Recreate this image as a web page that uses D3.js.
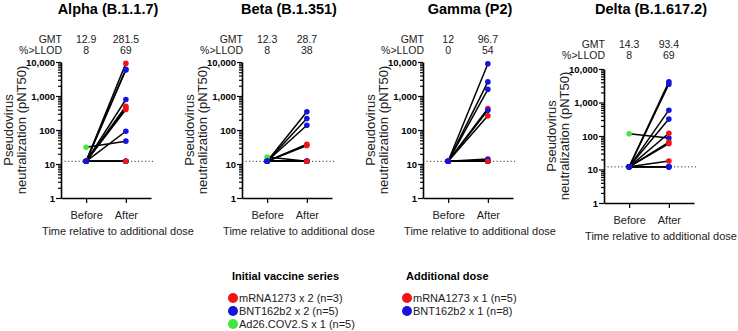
<!DOCTYPE html>
<html>
<head>
<meta charset="utf-8">
<script src="https://cdn.jsdelivr.net/npm/d3@7"></script>
<style>
  body { margin: 0; background: #fff; }
  svg { display: block; font-family: "Liberation Sans", Arial, sans-serif; }
</style>
</head>
<body>
<svg id="chart" width="738" height="331"></svg>
<script>
// DATA
const variants = ["Alpha (B.1.1.7)", "Beta (B.1.351)", "Gamma (P2)", "Delta (B.1.617.2)"]
const timepoints = ["Before", "After"]
const gmtBefore = ["12.9", "12.3", "12", "14.3"]
const gmtAfter = ["281.5", "28.7", "96.7", "93.4"]
const llodBefore = ["8", "8", "0", "8"]
const llodAfter = ["69", "38", "54", "69"]
const llodValue = 12
const yTickValues = [1, 10, 100, 1000, 10000]

// one entry per participant, same order in every panel
const initialSeries = ["Ad26", "Ad26", "Ad26", "Ad26", "Ad26", "mRNA", "mRNA", "mRNA", "BNT", "BNT", "BNT", "BNT", "BNT"]
const additionalDose = ["BNT", "BNT", "BNT", "mRNA", "mRNA", "BNT", "mRNA", "mRNA", "BNT", "BNT", "BNT", "BNT", "mRNA"]

const alphaBefore = [31, 12, 12, 12, 12, 12, 12, 12, 12, 12, 12, 12, 12]
const alphaAfter = [47, 6050, 5800, 9100, 500, 790, 450, 400, 92, 12, 12, 12, 12]
const betaBefore = [16, 12, 12, 12, 12, 12, 12, 12, 12, 12, 12, 12, 12]
const betaAfter = [12, 343, 217, 38, 35, 138, 12, 12, 12, 12, 12, 12, 12]
const gammaBefore = [12, 12, 12, 12, 12, 12, 12, 12, 12, 12, 12, 12, 12]
const gammaAfter = [12, 8900, 2600, 427, 261, 1570, 12, 12, 382, 14, 12, 12, 12]
const deltaBefore = [117, 12, 12, 12, 12, 12, 12, 12, 12, 12, 12, 12, 12]
const deltaAfter = [87, 4150, 3520, 121, 66, 590, 59, 12, 320, 12, 12, 12, 18]

const beforeValues = [alphaBefore, betaBefore, gammaBefore, deltaBefore]
const afterValues = [alphaAfter, betaAfter, gammaAfter, deltaAfter]

const legendInitial = ["mRNA1273 x 2 (n=3)", "BNT162b2 x 2 (n=5)", "Ad26.COV2.S x 1 (n=5)"]
const legendInitialKeys = ["mRNA", "BNT", "Ad26"]
const legendAdditional = ["mRNA1273 x 1 (n=5)", "BNT162b2 x 1 (n=8)"]
const legendAdditionalKeys = ["mRNA", "BNT"]

const colors = {mRNA: "#f21414", BNT: "#1414dc", Ad26: "#3ee83e"}

let svg = d3.select("#chart")

function draw_panel(i){

    let axisX = 61 + i * 181
    let top = i == 3 ? 69 : 62
    let bottom = i == 3 ? 203 : 198
    let width = 90

    let y = d3.scaleLog().domain([1, 10000]).range([bottom, top])
    let x = d3.scalePoint().domain(timepoints).range([0, width]).padding(0.633)

    let panel = svg.append('g').attr('transform', `translate(${axisX},0)`)

    // TITLE
    panel.append('text')
        .attr('x', 47)
        .attr('y', 14)
        .attr('text-anchor', 'middle')
        .attr('font-size', 14.5)
        .attr('font-weight', 'bold')
        .text(variants[i])

    // GMT / LLOD ROWS
    let rowY = i == 3 ? 48 : 43
    let rows = [["GMT", gmtBefore[i], gmtAfter[i]], ["%>LLOD", llodBefore[i], llodAfter[i]]]
    rows.forEach((r, k) => {
        panel.append('text')
            .attr('x', 1)
            .attr('y', rowY + k * 11)
            .attr('text-anchor', 'end')
            .attr('font-size', 10.5)
            .attr('fill', '#222')
            .text(r[0])
        timepoints.forEach((t, j) => {
            panel.append('text')
                .attr('x', x(t))
                .attr('y', rowY + k * 11)
                .attr('text-anchor', 'middle')
                .attr('font-size', 10.5)
                .attr('fill', '#222')
                .text(r[j + 1])
        })
    })

    // Y AXIS
    let allTicks = []
    for (let d = 1; d < 10000; d *= 10) {
        for (let m = 1; m < 10; m++) allTicks.push(d * m)
    }
    allTicks.push(10000)

    let yAxis = panel.append('g')
        .call(d3.axisLeft(y).tickValues(allTicks).tickSizeOuter(0)
            .tickFormat(v => yTickValues.includes(v) ? d3.format(",")(v) : ""))
    yAxis.select('.domain').attr('stroke-width', 1.6)
    yAxis.selectAll('.tick line')
        .attr('x2', v => yTickValues.includes(v) ? -5 : -3)
        .attr('stroke-width', 1.2)
    yAxis.selectAll('.tick text')
        .attr('x', -6)
        .attr('font-size', 9.5)
        .attr('font-weight', 'bold')
        .attr('font-family', '"Liberation Sans", Arial, sans-serif')
        .attr('fill', '#000')

    // Y AXIS LABEL
    let midY = (top + bottom) / 2
    panel.append('text')
        .attr('transform', `translate(-48,${midY}) rotate(-90)`)
        .attr('text-anchor', 'middle')
        .attr('font-size', 13)
        .attr('fill', '#222')
        .text("Pseudovirus")
    panel.append('text')
        .attr('transform', `translate(-35,${midY}) rotate(-90)`)
        .attr('text-anchor', 'middle')
        .attr('font-size', 13)
        .attr('fill', '#222')
        .text("neutralization (pNT50)")

    // X AXIS
    let xAxis = panel.append('g')
        .attr('transform', `translate(0,${bottom})`)
        .call(d3.axisBottom(x).tickSize(5).tickSizeOuter(0))
    xAxis.select('.domain').attr('stroke-width', 1.6)
    xAxis.selectAll('.tick line').attr('stroke-width', 1.2)
    xAxis.selectAll('.tick text')
        .attr('y', 13)
        .attr('font-size', 11)
        .attr('font-family', '"Liberation Sans", Arial, sans-serif')
        .attr('fill', '#222')

    panel.append('text')
        .attr('x', 57)
        .attr('y', bottom + 37)
        .attr('text-anchor', 'middle')
        .attr('font-size', 11)
        .attr('fill', '#222')
        .text("Time relative to additional dose")

    // LLOD LINE
    panel.append('line')
        .attr('x1', 0)
        .attr('x2', width + 2)
        .attr('y1', y(llodValue))
        .attr('y2', y(llodValue))
        .attr('stroke', '#333')
        .attr('stroke-width', 1)
        .attr('stroke-dasharray', '1.2,2.3')

    let data = beforeValues[i].map((b, k) => ({
        before: b, after: afterValues[i][k],
        initial: initialSeries[k], boost: additionalDose[k]
    }))

    // LINES
    panel.selectAll('.pair')
        .data(data)
        .enter()
        .append('line')
            .attr('x1', x("Before"))
            .attr('x2', x("After"))
            .attr('y1', d => y(d.before))
            .attr('y2', d => y(d.after))
            .attr('stroke', '#000')
            .attr('stroke-width', 1.5)

    // BEFORE DOTS
    panel.selectAll('.dot-before')
        .data(data)
        .enter()
        .append('circle')
            .attr('cx', x("Before"))
            .attr('cy', d => y(d.before))
            .attr('r', 2.8)
            .attr('fill', d => colors[d.initial])

    // AFTER DOTS
    panel.selectAll('.dot-after')
        .data(data)
        .enter()
        .append('circle')
            .attr('cx', x("After"))
            .attr('cy', d => y(d.after))
            .attr('r', 2.8)
            .attr('fill', d => colors[d.boost])
}

variants.forEach((v, i) => draw_panel(i))

// LEGENDS
function draw_legend(left, title, labels, keys){
    let g = svg.append('g').attr('transform', `translate(${left},0)`)
    g.append('text')
        .attr('x', 0)
        .attr('y', 280)
        .attr('font-size', 11)
        .attr('font-weight', 'bold')
        .text(title)
    labels.forEach((l, k) => {
        g.append('circle')
            .attr('cx', 1)
            .attr('cy', 298 + k * 13)
            .attr('r', 5)
            .attr('fill', colors[keys[k]])
        g.append('text')
            .attr('x', 7)
            .attr('y', 302 + k * 13)
            .attr('font-size', 11)
            .attr('fill', '#222')
            .text(l)
    })
}

draw_legend(232, "Initial vaccine series", legendInitial, legendInitialKeys)
draw_legend(406, "Additional dose", legendAdditional, legendAdditionalKeys)
</script>
</body>
</html>
